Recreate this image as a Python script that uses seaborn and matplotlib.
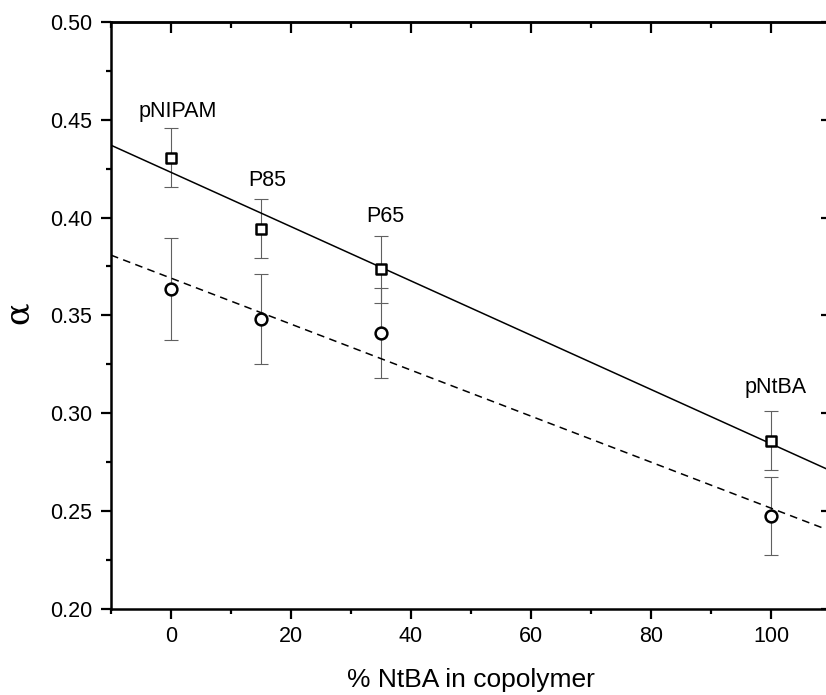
import matplotlib
matplotlib.use("Agg")
import matplotlib.pyplot as plt
import seaborn as sns
import numpy as np
import pandas as pd
from matplotlib.ticker import MultipleLocator, FormatStrFormatter

# ---- data ----
composition = [0, 15, 35, 100]
sample_labels = ["pNIPAM", "P85", "P65", "pNtBA"]
alpha_square = [0.4306, 0.3943, 0.3735, 0.2859]
err_square = [0.015, 0.015, 0.017, 0.015]
alpha_circle = [0.3635, 0.3480, 0.3408, 0.2474]
err_circle = [0.026, 0.023, 0.023, 0.020]
label_x = [1.2, 16.1, 35.8, 100.7]
label_y = [0.454, 0.419, 0.4004, 0.313]

df = pd.DataFrame({"x": composition, "sq": alpha_square, "ci": alpha_circle})

sns.set_style("ticks")
plt.rcParams['font.family'] = ['Liberation Sans', 'DejaVu Sans']
plt.rcParams['text.color'] = 'black'
plt.rcParams['axes.labelcolor'] = 'black'
plt.rcParams['xtick.color'] = 'black'
plt.rcParams['ytick.color'] = 'black'

fig = plt.figure(figsize=(8.26, 6.95), dpi=100)
ax = fig.add_axes([111 / 826, 1 - 608.7 / 695, 720 / 826, 586.7 / 695])
ax.set_xlim(-10, 110)
ax.set_ylim(0.2, 0.5)

# error bars
ax.errorbar(composition, alpha_square, yerr=err_square, fmt='none', ecolor='#606060',
            elinewidth=0.8, capsize=5, capthick=0.8, zorder=2)
ax.errorbar(composition, alpha_circle, yerr=err_circle, fmt='none', ecolor='#606060',
            elinewidth=0.8, capsize=5, capthick=0.8, zorder=2)

# linear fits
sns.regplot(data=df, x="x", y="sq", scatter=False, ci=None, truncate=False,
            color="black", line_kws=dict(lw=1.1), ax=ax)
sns.regplot(data=df, x="x", y="ci", scatter=False, ci=None, truncate=False,
            color="black", line_kws=dict(lw=1.1, ls=(0, (5, 3.5))), ax=ax)

# markers
sns.scatterplot(data=df, x="x", y="sq", marker='s', s=48, facecolor='white',
                edgecolor='black', linewidth=1.8, zorder=5, ax=ax)
sns.scatterplot(data=df, x="x", y="ci", marker='o', s=72, facecolor='white',
                edgecolor='black', linewidth=1.8, zorder=5, ax=ax)

ax.set_xlim(-10, 110)
ax.set_ylim(0.2, 0.5)
ax.set_xlabel("")
ax.set_ylabel("")

for lx, ly, t in zip(label_x, label_y, sample_labels):
    ax.text(lx, ly, t, ha='center', va='center', fontsize=15.5, color='black')

# ticks
ax.xaxis.set_major_locator(MultipleLocator(20))
ax.xaxis.set_minor_locator(MultipleLocator(10))
ax.yaxis.set_major_locator(MultipleLocator(0.05))
ax.yaxis.set_minor_locator(MultipleLocator(0.025))
ax.yaxis.set_major_formatter(FormatStrFormatter('%.2f'))
ax.tick_params(which='major', direction='out', length=7.5, width=1.6,
               labelsize=15.5, color='black', labelcolor='black')
ax.tick_params(which='minor', direction='out', length=3.8, width=1.6, color='black')
ax.tick_params(axis='x', which='major', pad=5)
ax.tick_params(axis='y', which='major', pad=6)

for sp in ax.spines.values():
    sp.set_linewidth(1.8)
    sp.set_color('black')
    sp.set_visible(True)

# top and right with inward ticks
secx = ax.secondary_xaxis('top')
secx.xaxis.set_major_locator(MultipleLocator(20))
secx.xaxis.set_minor_locator(MultipleLocator(10))
secx.tick_params(which='major', direction='in', length=8, width=1.6, labeltop=False)
secx.tick_params(which='minor', direction='in', length=4, width=1.6)
secx.spines['top'].set_linewidth(1.8)
secy = ax.secondary_yaxis('right')
secy.yaxis.set_major_locator(MultipleLocator(0.05))
secy.yaxis.set_minor_locator(MultipleLocator(0.025))
secy.tick_params(which='major', direction='in', length=7.5, width=1.6, labelright=False)
secy.tick_params(which='minor', direction='in', length=3.8, width=1.6)
secy.spines['right'].set_linewidth(1.8)

ax.set_xlabel("% NtBA in copolymer", fontsize=19, color='black')
ax.xaxis.set_label_coords(0.5, -0.101)
fig.text(19 / 826, 1 - 313 / 695, "α", rotation=90, ha='center', va='center',
         fontsize=24, family=['DejaVu Serif'], color='black')

fig.savefig("out.png", dpi=100)
